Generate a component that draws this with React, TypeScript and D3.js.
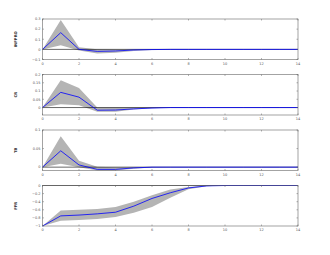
import React from 'react';
import * as d3 from 'd3';

const steps = d3.range(0, 15);

const infproMid = [0, 0.165, 0.0, -0.02, -0.016, -0.006, -0.002, 0, 0, 0, 0, 0, 0, 0, 0];
const infproUp = [0, 0.29, 0.02, 0.002, 0.0, 0.0, 0.0, 0, 0, 0, 0, 0, 0, 0, 0];
const infproLo = [0, 0.04, -0.012, -0.04, -0.034, -0.015, -0.005, -0.001, 0, 0, 0, 0, 0, 0, 0];

const crMid = [0, 0.092, 0.063, -0.016, -0.015, -0.008, -0.003, 0, 0, 0, 0, 0, 0, 0, 0];
const crUp = [0, 0.165, 0.118, 0.0, 0.0, 0.0, 0.0, 0, 0, 0, 0, 0, 0, 0, 0];
const crLo = [0, 0.02, 0.014, -0.025, -0.025, -0.012, -0.004, -0.001, 0, 0, 0, 0, 0, 0, 0];

const tbMid = [0, 0.044, 0.006, -0.006, -0.006, -0.002, 0, 0, 0, 0, 0, 0, 0, 0, 0];
const tbUp = [0, 0.083, 0.017, 0.001, 0.0, 0.0, 0, 0, 0, 0, 0, 0, 0, 0, 0];
const tbLo = [0, 0.009, 0.0, -0.009, -0.009, -0.004, -0.001, 0, 0, 0, 0, 0, 0, 0, 0];

const ffrMid = [-1, -0.75, -0.73, -0.7, -0.66, -0.51, -0.32, -0.18, -0.06, -0.01, 0, 0, 0, 0, 0];
const ffrUp = [-1, -0.62, -0.6, -0.58, -0.53, -0.4, -0.24, -0.1, -0.035, 0, 0, 0, 0, 0, 0];
const ffrLo = [-1, -0.87, -0.85, -0.83, -0.78, -0.67, -0.53, -0.3, -0.09, -0.02, 0, 0, 0, 0, 0];

const xTicks = [0, 2, 4, 6, 8, 10, 12, 14];

const panels = [
  { name: 'INFPRO', mid: infproMid, up: infproUp, lo: infproLo, domain: [-0.1, 0.3], ticks: [-0.1, 0, 0.1, 0.2, 0.3] },
  { name: 'CR', mid: crMid, up: crUp, lo: crLo, domain: [-0.045, 0.2], ticks: [0, 0.05, 0.1, 0.15, 0.2] },
  { name: 'TB', mid: tbMid, up: tbUp, lo: tbLo, domain: [-0.009, 0.1], ticks: [0, 0.05, 0.1] },
  { name: 'FFR', mid: ffrMid, up: ffrUp, lo: ffrLo, domain: [-1, 0], ticks: [-1, -0.8, -0.6, -0.4, -0.2, 0] },
];

const left = 42.5;
const right = 298;
const tops = [19, 74.5, 130, 185.5];
const ph = 40.5;

function Panel({ p, top }: { p: any; top: number }) {
  const x = d3.scaleLinear().domain([0, 14]).range([left, right]);
  const y = d3.scaleLinear().domain(p.domain).range([top + ph, top]);
  const area = d3
    .area<number>()
    .x((d) => x(d))
    .y0((d) => y(p.lo[d]))
    .y1((d) => y(p.up[d]));
  const line = d3
    .line<number>()
    .x((d) => x(d))
    .y((d) => y(p.mid[d]));
  const bottom = top + ph;
  return (
    <g>
      <path d={area(steps) || ''} fill="#b4b4b4" stroke="none" />
      <line x1={left} x2={right} y1={y(0)} y2={y(0)} stroke="#000" strokeWidth={0.6} />
      <path d={line(steps) || ''} fill="none" stroke="#0000ff" strokeWidth={0.8} />
      <rect x={left} y={top} width={right - left} height={ph} fill="none" stroke="#666" strokeWidth={0.6} />
      {xTicks.map((t) => (
        <g key={'x' + t}>
          <line x1={x(t)} x2={x(t)} y1={bottom} y2={bottom - 1.5} stroke="#666" strokeWidth={0.5} />
          <line x1={x(t)} x2={x(t)} y1={top} y2={top + 1.5} stroke="#666" strokeWidth={0.5} />
          <text x={x(t)} y={bottom + 5} fontSize={3.5} textAnchor="middle" fill="#555" fontFamily="DejaVu Sans">
            {t}
          </text>
        </g>
      ))}
      {p.ticks.map((t: number) => (
        <g key={'y' + t}>
          <line x1={left} x2={left + 1.5} y1={y(t)} y2={y(t)} stroke="#666" strokeWidth={0.5} />
          <line x1={right} x2={right - 1.5} y1={y(t)} y2={y(t)} stroke="#666" strokeWidth={0.5} />
          <text x={left - 2} y={y(t) + 1.3} fontSize={3.5} textAnchor="end" fill="#555" fontFamily="DejaVu Sans">
            {d3.format('~g')(t)}
          </text>
        </g>
      ))}
      <text
        transform={`translate(17,${top + ph / 2}) rotate(-90)`}
        fontSize={3.8}
        fontWeight="bold"
        textAnchor="middle"
        fill="#333"
        fontFamily="DejaVu Sans"
      >
        {p.name}
      </text>
    </g>
  );
}

export default function App() {
  return (
    <svg width={330} height={255} style={{ position: 'absolute', left: 0, top: 0, background: '#fff' }}>
      <rect width={330} height={255} fill="#fff" />
      {panels.map((p, i) => (
        <Panel key={p.name} p={p} top={tops[i]} />
      ))}
    </svg>
  );
}
